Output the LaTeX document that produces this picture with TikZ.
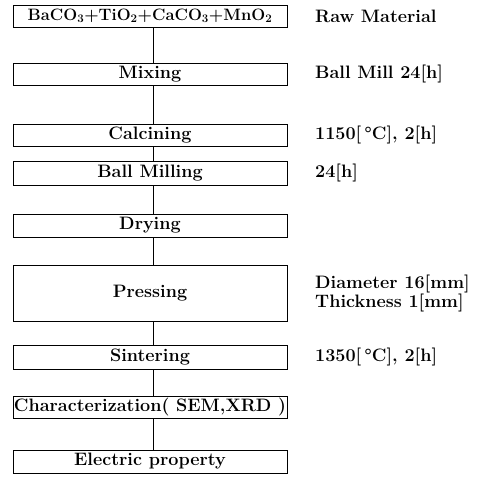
\documentclass[tikz,border=0pt]{standalone}
\usepackage{fontspec}
\usepackage{tikz}
\usetikzlibrary{positioning}

\begin{document}
\begin{tikzpicture}[
    x=1pt, y=-1pt,
    box/.style={rectangle, draw, line width=0.8pt, minimum width=274pt, minimum height=22pt,
                inner sep=1pt, font=\fontsize{18}{20}\selectfont\bfseries},
    note/.style={anchor=west, align=left, inner sep=0pt, font=\fontsize{18}{19}\selectfont\bfseries},
    link/.style={line width=0.8pt}
]
\useasboundingbox (0,0) rectangle (481,476);

% Process boxes
\node[box, font=\fontsize{16.5}{19}\selectfont\bfseries] (raw) at (150,16)
    {BaCO\textsubscript{3}+TiO\textsubscript{2}+CaCO\textsubscript{3}+MnO\textsubscript{2}};
\node[box] (mix) at (150,74.5) {Mixing};
\node[box] (calc) at (150,135) {Calcining};
\node[box, minimum height=24pt] (mill) at (150,173) {Ball Milling};
\node[box, minimum height=23pt] (dry) at (150,225.5) {Drying};
\node[box, minimum height=56pt] (press) at (150,293) {Pressing};
\node[box, minimum height=24pt] (sinter) at (150,357) {Sintering};
\node[box] (char) at (150,407) {Characterization( SEM,XRD )};
\node[box, minimum height=23pt] (elec) at (150,461.5) {Electric property};

% Conditions
\node[note] (rawnote) at (315,16) {Raw Material};
\node[note] (mixnote) at (315,74.5) {Ball Mill 24[h]};
\node[note] (calcnote) at (315,135) {1150[\,\textdegree C], 2[h]};
\node[note] (millnote) at (315,173) {24[h]};
\node[note] (pressnote) at (315,293) {Diameter 16[mm]\\Thickness 1[mm]};
\node[note] (sinternote) at (315,357) {1350[\,\textdegree C], 2[h]};

% Flow lines
\foreach \a/\b in {raw/mix, mix/calc, calc/mill, mill/dry, dry/press, press/sinter, sinter/char, char/elec}
    \draw[link] ([xshift=3pt]\a.south) -- ([xshift=3pt]\b.north);

\end{tikzpicture}
\end{document}
